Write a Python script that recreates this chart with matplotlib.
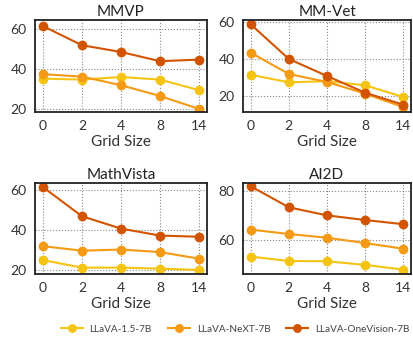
import numpy as np
import matplotlib.pyplot as plt

grid_sizes = ["0", "2", "4", "8", "14"]
models = ["LLaVA-1.5-7B", "LLaVA-NeXT-7B", "LLaVA-OneVision-7B"]
colors = ["#F5C413", "#F59A14", "#D35400"]

mmvp = [[35.0, 34.5, 35.8, 34.5, 29.2],
        [37.2, 36.0, 31.7, 26.3, 19.8],
        [61.3, 51.7, 48.3, 43.7, 44.5]]
mmvet = [[31.5, 27.4, 28.0, 25.8, 19.5],
         [43.4, 31.9, 27.6, 21.3, 14.0],
         [58.7, 40.0, 30.8, 21.8, 15.3]]
mathvista = [[25.0, 21.2, 21.2, 20.7, 20.0],
             [32.0, 29.7, 30.3, 29.0, 25.7],
             [61.7, 47.0, 40.8, 37.3, 36.7]]
ai2d = [[53.1, 51.3, 51.2, 49.7, 47.8],
        [64.1, 62.3, 60.8, 58.6, 56.3],
        [81.8, 73.2, 69.9, 68.0, 66.3]]

panels = [("MMVP", mmvp, (18.3, 64.3), [20, 40, 60]),
          ("MM-Vet", mmvet, (11.4, 61), [20, 40, 60]),
          ("MathVista", mathvista, (18, 63.7), [20, 40, 60]),
          ("AI2D", ai2d, (46, 83.1), [60, 80])]

plt.rcParams['font.family'] = ['Lato', 'DejaVu Sans']

fig = plt.figure(figsize=(4.14, 3.39), dpi=100)
W, H = 414, 339
boxes = [(35, 20, 207, 112), (243, 20, 411, 112),
         (35, 183, 207, 274), (243, 183, 411, 274)]

x = np.arange(len(grid_sizes))
handles = []
for (title, data, ylim, yticks), (l, t, r, b) in zip(panels, boxes):
    ax = fig.add_axes([l / W, 1 - b / H, (r - l) / W, (b - t) / H])
    for vals, c, name in zip(data, colors, models):
        h, = ax.plot(x, vals, color=c, marker="o", markersize=6, linewidth=1.5, label=name)
        if title == "MMVP":
            handles.append(h)
    ax.set_xlim(-0.2, 4.2)
    ax.set_ylim(*ylim)
    ax.set_xticks(x)
    ax.set_xticklabels(grid_sizes)
    ax.set_yticks(yticks)
    ax.grid(True, linestyle=":", color="#888888", linewidth=0.8)
    ax.set_axisbelow(True)
    ax.tick_params(length=0, labelsize=10, pad=6, colors="#333333")
    for s in ax.spines.values():
        s.set_linewidth(1.3)
        s.set_color("#222222")
    ax.set_title(title, fontsize=11, pad=3, color="#222222")
    ax.set_xlabel("Grid Size", fontsize=11, labelpad=2, color="#333333")

leg = fig.legend(handles=handles, labels=models, loc="center", bbox_to_anchor=(0.568, 1 - 329 / H),
                 ncol=3, frameon=False, fontsize=7.2, handlelength=2.2, columnspacing=1.6,
                 handletextpad=0.7, markerscale=0.9)
for txt in leg.get_texts():
    txt.set_color("#444444")

fig.savefig("out.png", dpi=100)
